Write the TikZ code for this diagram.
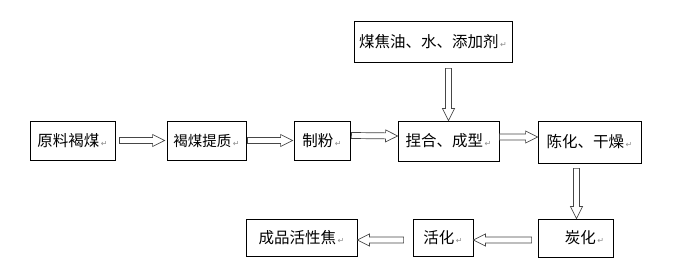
\documentclass[tikz,border=0pt]{standalone}
\usepackage{fontspec}
\setmainfont{Noto Sans CJK SC}
\newfontfamily\retfont{DejaVu Sans}
\usetikzlibrary{calc}
\definecolor{arrowgray}{RGB}{70,70,70}
\newcommand{\ret}{{\retfont\fontsize{8}{8}\selectfont\color{black!45}\,↵}}
\tikzset{
  stepbox/.style={draw, line width=0.8pt, inner sep=0pt,
    minimum width=#1, minimum height=39pt},
  blockarr/.style={draw=arrowgray, line width=0.7pt, fill=white,
    to path={let \p1=(\tikztostart), \p2=(\tikztotarget),
      \n{ang}={atan2(\y2-\y1,\x2-\x1)}, \n{len}={veclen(\x2-\x1,\y2-\y1)} in
      ([shift={(\p1)},rotate=\n{ang}]0pt,3pt)
      -- ([shift={(\p1)},rotate=\n{ang}]\n{len}-12pt,3pt)
      -- ([shift={(\p1)},rotate=\n{ang}]\n{len}-12pt,6pt)
      -- ([shift={(\p1)},rotate=\n{ang}]\n{len},0pt)
      -- ([shift={(\p1)},rotate=\n{ang}]\n{len}-12pt,-6pt)
      -- ([shift={(\p1)},rotate=\n{ang}]\n{len}-12pt,-3pt)
      -- ([shift={(\p1)},rotate=\n{ang}]0pt,-3pt) -- cycle}}
}
\begin{document}
\begin{tikzpicture}[x=1pt, y=-1pt, font=\fontsize{15.5}{18}\selectfont]
  \useasboundingbox (0,0) rectangle (681,280);
  % top row
  \node[stepbox=85pt] (raw) at (72.5,140.5) {原料褐煤\ret};
  \node[stepbox=79pt, font=\fontsize{14.5}{17}\selectfont] (upgrade) at (206.5,140.5) {褐煤提质\ret};
  \node[stepbox=56pt] (mill) at (322,140.5) {制粉\ret};
  \node[stepbox=158pt, minimum height=41pt] (additive) at (433,41.5) {煤焦油、水、添加剂\ret};
  \node[stepbox=101pt, minimum height=40pt] (knead) at (448.5,141) {捏合、成型\ret};
  \node[stepbox=103pt, minimum height=42pt] (dry) at (589.5,142) {陈化、干燥\ret};
  % bottom row
  \node[stepbox=75pt, minimum height=38pt] (carbon) at (575.5,238) {\hspace*{18pt}炭化\ret};
  \node[stepbox=60pt, minimum height=37pt] (activate) at (443,237.5) {活化\ret};
  \node[stepbox=111pt, minimum height=37pt] (product) at (301.5,237.5) {成品活性焦\ret};
  % arrows
  \draw[blockarr] ($(raw.east)+(4,0)$) to ($(upgrade.west)+(-2,0)$);
  \draw[blockarr] ($(upgrade.east)+(1,0)$) to ($(mill.west)+(-1,0)$);
  \draw[blockarr] ($(mill.east)+(1,-5)$) to ($(knead.west)+(0,-5)$);
  \draw[blockarr] ($(knead.east)+(0,-4)$) to ($(dry.west|-knead.east)+(0,-4)$);
  \draw[blockarr] ($(additive.south-|knead.north)+(0,6)$) to (knead.north);
  \draw[blockarr] ($(dry.south-|carbon.north)+(1,5)$) to ($(carbon.north)+(1,0)$);
  \draw[blockarr] ($(carbon.west)+(-6,2)$) to ($(activate.east)+(0,2.5)$);
  \draw[blockarr] ($(activate.west)+(-9,2.5)$) to ($(product.east)+(0,2.5)$);
\end{tikzpicture}
\end{document}
